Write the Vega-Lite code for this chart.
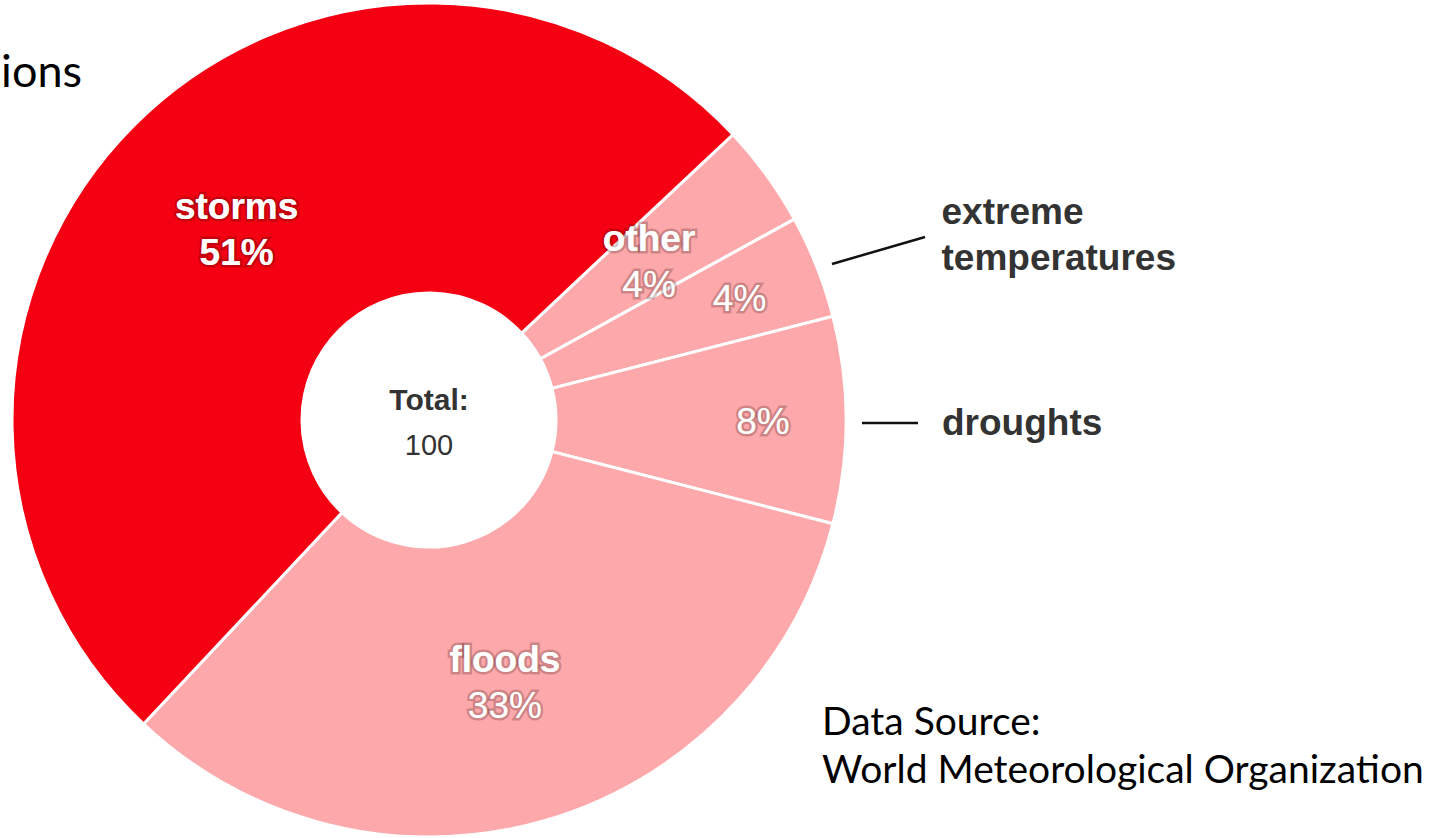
{
  "$schema": "https://vega.github.io/schema/vega-lite/v6.json",
  "width": 858,
  "height": 840,
  "autosize": {"type": "none"},
  "padding": {"left": 0, "top": 0, "right": 583, "bottom": 0},
  "background": "white",
  "config": {"view": {"stroke": null}},
  "data": {"values": [
    {"cause": "other", "share": 4, "ord": 1, "pct": "4%"},
    {"cause": "extreme temperatures", "share": 4, "ord": 2, "pct": "4%"},
    {"cause": "droughts", "share": 8, "ord": 3, "pct": "8%"},
    {"cause": "floods", "share": 33, "ord": 4, "pct": "33%"},
    {"cause": "storms", "share": 51, "ord": 5, "pct": "51%"}
  ]},
  "layer": [
    {
      "mark": {"type": "arc", "outerRadius": 417, "innerRadius": 127, "stroke": "white", "strokeWidth": 3},
      "encoding": {
        "theta": {"field": "share", "type": "quantitative", "stack": true, "scale": {"range": [0.8168, 7.0999]}},
        "order": {"field": "ord", "type": "quantitative"},
        "color": {"field": "cause", "type": "nominal", "legend": null,
          "scale": {"domain": ["other", "extreme temperatures", "droughts", "floods", "storms"],
                    "range": ["#FDA8AA", "#FDA8AA", "#FDA8AA", "#FDA8AA", "#F40012"]}}
      }
    },
    {
      "mark": {"type": "text", "radius": 272, "dy": -20, "font": "Liberation Sans", "fontSize": 37, "fontWeight": "bold", "fill": "white", "stroke": "#2a0000", "strokeWidth": 5, "strokeOpacity": 0.22, "baseline": "middle"},
      "encoding": {
        "theta": {"field": "share", "type": "quantitative", "stack": true},
        "order": {"field": "ord", "type": "quantitative"},
        "text": {"condition": {"test": "datum.ord == 1 || datum.ord == 4 || datum.ord == 5", "field": "cause"}, "value": ""}
      }
    },
    {
      "mark": {"type": "text", "radius": 272, "dy": -20, "font": "Liberation Sans", "fontSize": 37, "fontWeight": "bold", "fill": "white", "baseline": "middle"},
      "encoding": {
        "theta": {"field": "share", "type": "quantitative", "stack": true},
        "order": {"field": "ord", "type": "quantitative"},
        "text": {"condition": {"test": "datum.ord == 1 || datum.ord == 4 || datum.ord == 5", "field": "cause"}, "value": ""}
      }
    },
    {
      "mark": {"type": "text", "radius": 272, "dy": 26, "font": "Liberation Sans", "fontSize": 37, "fontWeight": "bold", "fill": "white", "stroke": "#2a0000", "strokeWidth": 5, "strokeOpacity": 0.22, "baseline": "middle"},
      "encoding": {
        "theta": {"field": "share", "type": "quantitative", "stack": true},
        "order": {"field": "ord", "type": "quantitative"},
        "text": {"condition": {"test": "datum.ord == 5", "field": "pct"}, "value": ""}
      }
    },
    {
      "mark": {"type": "text", "radius": 272, "dy": 26, "font": "Liberation Sans", "fontSize": 37, "fontWeight": "bold", "fill": "white", "baseline": "middle"},
      "encoding": {
        "theta": {"field": "share", "type": "quantitative", "stack": true},
        "order": {"field": "ord", "type": "quantitative"},
        "text": {"condition": {"test": "datum.ord == 5", "field": "pct"}, "value": ""}
      }
    },
    {
      "mark": {"type": "text", "radius": 272, "dy": 26, "font": "Liberation Sans", "fontSize": 37, "fill": "white", "stroke": "#2a0000", "strokeWidth": 5, "strokeOpacity": 0.22, "baseline": "middle"},
      "encoding": {
        "theta": {"field": "share", "type": "quantitative", "stack": true},
        "order": {"field": "ord", "type": "quantitative"},
        "text": {"condition": {"test": "datum.ord == 1 || datum.ord == 4", "field": "pct"}, "value": ""}
      }
    },
    {
      "mark": {"type": "text", "radius": 272, "dy": 26, "font": "Liberation Sans", "fontSize": 37, "fill": "white", "baseline": "middle"},
      "encoding": {
        "theta": {"field": "share", "type": "quantitative", "stack": true},
        "order": {"field": "ord", "type": "quantitative"},
        "text": {"condition": {"test": "datum.ord == 1 || datum.ord == 4", "field": "pct"}, "value": ""}
      }
    },
    {
      "mark": {"type": "text", "radius": 334, "dy": 3, "font": "Liberation Sans", "fontSize": 37, "fill": "white", "stroke": "#2a0000", "strokeWidth": 5, "strokeOpacity": 0.22, "baseline": "middle"},
      "encoding": {
        "theta": {"field": "share", "type": "quantitative", "stack": true},
        "order": {"field": "ord", "type": "quantitative"},
        "text": {"condition": {"test": "datum.ord == 2 || datum.ord == 3", "field": "pct"}, "value": ""}
      }
    },
    {
      "mark": {"type": "text", "radius": 334, "dy": 3, "font": "Liberation Sans", "fontSize": 37, "fill": "white", "baseline": "middle"},
      "encoding": {
        "theta": {"field": "share", "type": "quantitative", "stack": true},
        "order": {"field": "ord", "type": "quantitative"},
        "text": {"condition": {"test": "datum.ord == 2 || datum.ord == 3", "field": "pct"}, "value": ""}
      }
    },
    {
      "mark": {"type": "text", "radius": 505, "dx": 43, "dy": -21, "align": "left", "baseline": "middle", "lineBreak": " ", "lineHeight": 46, "font": "Liberation Sans", "fontSize": 37, "fontWeight": "bold", "fill": "#333333"},
      "encoding": {
        "theta": {"field": "share", "type": "quantitative", "stack": true},
        "order": {"field": "ord", "type": "quantitative"},
        "text": {"condition": {"test": "datum.ord == 2", "field": "cause"}, "value": ""}
      }
    },
    {
      "mark": {"type": "text", "radius": 513, "dy": 4, "align": "left", "baseline": "middle", "font": "Liberation Sans", "fontSize": 37, "fontWeight": "bold", "fill": "#333333"},
      "encoding": {
        "theta": {"field": "share", "type": "quantitative", "stack": true},
        "order": {"field": "ord", "type": "quantitative"},
        "text": {"condition": {"test": "datum.ord == 3", "field": "cause"}, "value": ""}
      }
    },
    {
      "transform": [{"aggregate": [{"op": "sum", "field": "share", "as": "total"}]}],
      "mark": {"type": "text", "dy": 26, "baseline": "middle", "font": "Liberation Sans", "fontSize": 29, "fill": "#333333"},
      "encoding": {"text": {"field": "total", "type": "quantitative"}}
    },
    {
      "data": {"values": [{"label": "Total:"}]},
      "mark": {"type": "text", "dy": -19, "baseline": "middle", "font": "Liberation Sans", "fontSize": 30, "fontWeight": "bold", "fill": "#333333"},
      "encoding": {"text": {"field": "label", "type": "nominal"}}
    },
    {
      "data": {"values": [{"label": "connector"}]},
      "mark": {"type": "rule", "stroke": "#111111", "strokeWidth": 2.5},
      "encoding": {"x": {"value": 832}, "y": {"value": 264}, "x2": {"value": 925}, "y2": {"value": 237}}
    },
    {
      "data": {"values": [{"label": "connector"}]},
      "mark": {"type": "rule", "stroke": "#111111", "strokeWidth": 2.5},
      "encoding": {"x": {"value": 862}, "y": {"value": 423}, "x2": {"value": 918}, "y2": {"value": 423}}
    },
    {
      "data": {"values": [{"label": "ions"}]},
      "mark": {"type": "text", "x": 82, "y": 87, "align": "right", "baseline": "alphabetic", "font": "Lato", "fontSize": 45, "fill": "#000000"},
      "encoding": {"text": {"field": "label", "type": "nominal"}}
    },
    {
      "data": {"values": [{"label": "Data Source:|World Meteorological Organization"}]},
      "mark": {"type": "text", "x": 822, "y": 735, "align": "left", "baseline": "alphabetic", "lineBreak": "|", "lineHeight": 48, "font": "Lato", "fontSize": 39, "fill": "#000000"},
      "encoding": {"text": {"field": "label", "type": "nominal"}}
    }
  ]
}
